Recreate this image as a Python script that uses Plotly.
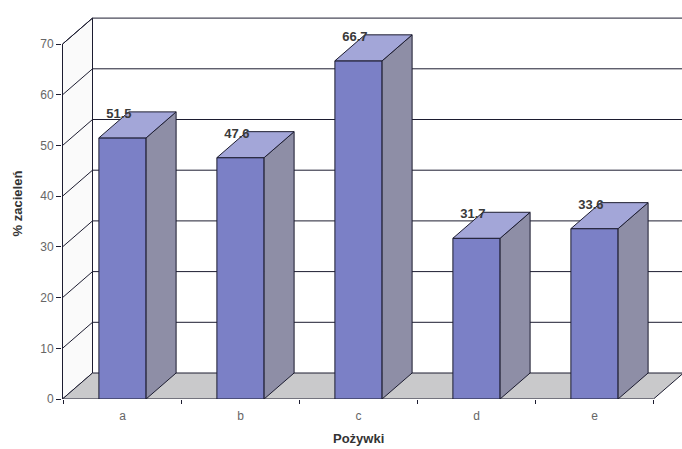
import plotly.graph_objects as go

# ---- data ----
categories = ["a", "b", "c", "d", "e"]
values = [51.5, 47.6, 66.7, 31.7, 33.6]
value_labels = ["51.5", "47.6", "66.7", "31.7", "33.6"]
y_ticks = [0, 10, 20, 30, 40, 50, 60, 70]
y_title = "% zacieleń"
x_title = "Pożywki"

# ---- layout constants ----
W, H = 682, 449
ML, MR, MT, MB = 62, 0, 8, 50
PX_X = 118.0          # px per category
PX_Y = 5.07           # px per y unit
FIRST_CENTER_PX = 122
BAR_W = 0.40
DX = 30 / PX_X        # depth offset (x units)
DY = 26 / PX_Y        # depth offset (y units)
YMAX = 70

FRONT = "#7b80c6"
SIDE = "#8e8ea6"
TOP = "#a3a6d8"
EDGE = "#1c1c30"
FLOOR = "#c9c9cb"
WALL = "#fafafa"
FONT = "Liberation Sans, Arial, sans-serif"

n = len(categories)
plot_w = W - ML - MR
plot_h = H - MT - MB
x0 = -(FIRST_CENTER_PX - ML) / PX_X - 0.5 / PX_X
x1 = x0 + plot_w / PX_X
y1 = plot_h / PX_Y
ax = x0 + 0.5 / PX_X
floor_end = n - 0.5


def path(pts, close=True):
    s = "M " + " L ".join(f"{x},{y}" for x, y in pts)
    return s + (" Z" if close else "")


shapes = []
# back wall
shapes.append(dict(type="path", xref="x", yref="y", layer="below",
                   path=path([(ax + DX, DY), (x1 + 1, DY), (x1 + 1, YMAX + DY), (ax + DX, YMAX + DY)]),
                   fillcolor="#ffffff", line=dict(width=0)))
# left wall
shapes.append(dict(type="path", xref="x", yref="y", layer="below",
                   path=path([(ax, 0), (ax + DX, DY), (ax + DX, YMAX + DY), (ax, YMAX)]),
                   fillcolor=WALL, line=dict(color=EDGE, width=1)))
# floor
shapes.append(dict(type="path", xref="x", yref="y", layer="below",
                   path=path([(ax, 0), (floor_end, 0), (floor_end + DX, DY), (ax + DX, DY)]),
                   fillcolor=FLOOR, line=dict(color=EDGE, width=1)))
# gridlines on walls
for t in y_ticks[1:]:
    shapes.append(dict(type="path", xref="x", yref="y", layer="below",
                       path=path([(ax, t), (ax + DX, t + DY), (x1 + 1, t + DY)], close=False),
                       line=dict(color=EDGE, width=1)))
# back floor edge extension
shapes.append(dict(type="path", xref="x", yref="y", layer="below",
                   path=path([(floor_end + DX, DY), (x1 + 1, DY)], close=False),
                   line=dict(color=EDGE, width=1)))

fig = go.Figure()

# front faces
fig.add_trace(go.Bar(x=list(range(n)), y=values, width=BAR_W,
                     marker=dict(color=FRONT, line=dict(color=EDGE, width=1)),
                     hoverinfo="skip", showlegend=False))

# side and top faces
for i, v in enumerate(values):
    l, r = i - BAR_W / 2, i + BAR_W / 2
    side = [(r, 0), (r + DX, DY), (r + DX, v + DY), (r, v), (r, 0)]
    top = [(l, v), (r, v), (r + DX, v + DY), (l + DX, v + DY), (l, v)]
    for pts, col in ((side, SIDE), (top, TOP)):
        fig.add_trace(go.Scatter(x=[p[0] for p in pts], y=[p[1] for p in pts],
                                 mode="lines", fill="toself", fillcolor=col,
                                 line=dict(color=EDGE, width=1),
                                 hoverinfo="skip", showlegend=False))

# value labels
fig.add_trace(go.Scatter(x=[i - 0.03 for i in range(n)], y=[v + 4.6 for v in values],
                         mode="text", text=value_labels, textposition="middle center",
                         textfont=dict(family=FONT, size=13, color="#3a3a3a", weight="bold"),
                         cliponaxis=False, hoverinfo="skip", showlegend=False))

# front axis line
fig.add_trace(go.Scatter(x=[ax, ax], y=[0, YMAX], mode="lines",
                         line=dict(color=EDGE, width=1), hoverinfo="skip", showlegend=False))

fig.update_layout(
    width=W, height=H,
    margin=dict(l=ML, r=MR, t=MT, b=MB),
    paper_bgcolor="white", plot_bgcolor="white",
    shapes=shapes,
    font=dict(family=FONT, color="#555"),
    xaxis=dict(range=[x0, x1], showgrid=False, zeroline=False, showline=False,
               tickvals=list(range(n)), ticktext=categories, ticks="",
               tickfont=dict(size=12, color="#666"), ticklabelstandoff=8,
               minor=dict(tickvals=[i - 0.5 for i in range(n + 1)], ticks="outside",
                          ticklen=4, tickcolor=EDGE, showgrid=False)),
    yaxis=dict(range=[0, y1], showgrid=False, zeroline=False, showline=False,
               tickvals=y_ticks, ticks="outside", ticklen=5, tickcolor=EDGE,
               tickfont=dict(size=12, color="#666"),
               title=dict(text=y_title, standoff=14,
                          font=dict(size=13, color="#333", family=FONT, weight="bold"))),
    annotations=[dict(x=(n - 1) / 2, xref="x", y=0, yref="paper", yanchor="top",
                      yshift=-30, text=f"<b>{x_title}</b>", showarrow=False,
                      font=dict(size=13, color="#333", family=FONT))],
)

fig.write_html("out.html")
